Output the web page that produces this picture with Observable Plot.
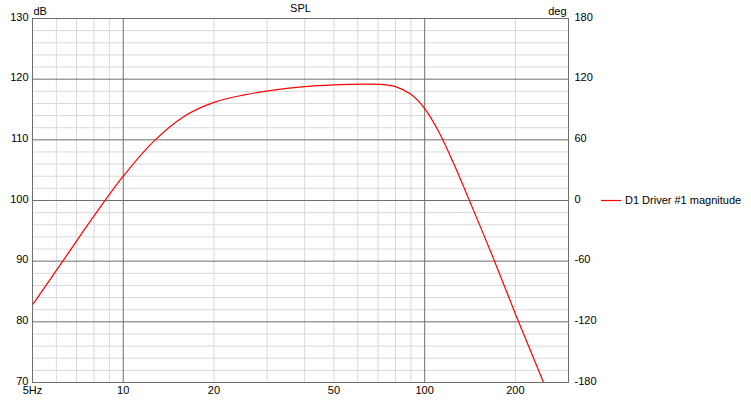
<!DOCTYPE html>
<html>
<head>
<meta charset="utf-8">
<script src="https://cdn.jsdelivr.net/npm/d3@7"></script>
<script src="https://cdn.jsdelivr.net/npm/@observablehq/plot@0.6"></script>
<style>
  html, body { margin: 0; padding: 0; background: #fff; }
  #wrap { position: relative; width: 751px; height: 400px; font-family: "Liberation Sans", Arial, sans-serif; }
  #legend { position: absolute; left: 0; top: 0; pointer-events: none; }
</style>
</head>
<body>
<div id="wrap"></div>
<script>
// Frequency (Hz) and SPL (dB)
const freqHz = [5, 6.3, 8, 10, 12.5, 16, 20, 25, 31.5, 40, 50, 63, 71, 80, 90, 100, 112, 125, 140, 170, 200, 248];
const splDb  = [82.8, 90.0, 97.45, 104.0, 109.55, 113.93, 116.17, 117.38, 118.19, 118.76, 119.05, 119.17, 119.15, 118.77, 117.5, 115.16, 111.1, 106.0, 100.27, 90.15, 81.3, 70];

const seriesName = "D1 Driver #1 magnitude";
const xTickValues = [5, 10, 20, 50, 100, 200];
const xTickLabels = ["5Hz", "10", "20", "50", "100", "200"];
const xMajorGrid = [10, 100];
const xMinorGrid = [6, 7, 8, 9, 20, 30, 40, 50, 60, 70, 80, 90, 200];
const yTicks = [70, 80, 90, 100, 110, 120, 130];
const yMajorGrid = [80, 90, 100, 110, 120];
const yMinorGrid = [72, 74, 76, 78, 82, 84, 86, 88, 92, 94, 96, 98, 102, 104, 106, 108, 112, 114, 116, 118, 122, 124, 126, 128];
const degTicks = [180, 120, 60, 0, -60, -120, -180];

const data = freqHz.map((f, i) => ({f, db: splDb[i]}));
// right axis: deg -180..180 spans same range as dB 70..130
const degToDb = d => 100 + d / 6;

const chart = Plot.plot({
  width: 751,
  height: 400,
  marginLeft: 32,
  marginRight: 183,
  marginTop: 18,
  marginBottom: 18,
  x: {type: "log", domain: [5, 300], label: null},
  y: {domain: [70, 130], label: null},
  style: {fontFamily: "'Liberation Sans', Arial, sans-serif", fontSize: "11px", background: "#fff", color: "#000"},
  marks: [
    Plot.ruleX(xMinorGrid, {stroke: "#d9d9d9", strokeOpacity: 1}),
    Plot.ruleY(yMinorGrid, {stroke: "#d9d9d9", strokeOpacity: 1}),
    Plot.ruleX(xMajorGrid, {stroke: "#6e6e6e", strokeOpacity: 1}),
    Plot.ruleY(yMajorGrid, {stroke: "#6e6e6e", strokeOpacity: 1}),
    Plot.line(data, {x: "f", y: "db", stroke: "#ff0000", strokeWidth: 1.2, curve: "catmull-rom"}),
    Plot.frame({stroke: "#6e6e6e", strokeOpacity: 1}),
    Plot.axisX({ticks: xTickValues, tickFormat: d => xTickLabels[xTickValues.indexOf(d)], tickSize: 0, tickPadding: 4, label: null}),
    Plot.axisY({ticks: yTicks, tickFormat: d => String(d), tickSize: 0, tickPadding: 4, dy: -1.5, label: null}),
    Plot.text(degTicks, {y: d => degToDb(d), text: d => String(d), frameAnchor: "right", textAnchor: "start", dx: 6, dy: -1.5}),
    Plot.text(["SPL"], {frameAnchor: "top", lineAnchor: "bottom", dy: -6.3}),
    Plot.text(["dB"], {frameAnchor: "top-left", textAnchor: "start", lineAnchor: "bottom", dx: 1, dy: -3.2}),
    Plot.text(["deg"], {frameAnchor: "top-right", textAnchor: "end", lineAnchor: "bottom", dx: -2, dy: -3.6})
  ]
});

const wrap = document.getElementById("wrap");
wrap.appendChild(chart);

// legend
const ns = "http://www.w3.org/2000/svg";
const leg = document.createElementNS(ns, "svg");
leg.setAttribute("id", "legend");
leg.setAttribute("width", 751);
leg.setAttribute("height", 400);
const ln = document.createElementNS(ns, "line");
ln.setAttribute("x1", 601); ln.setAttribute("x2", 621);
ln.setAttribute("y1", 200.5); ln.setAttribute("y2", 200.5);
ln.setAttribute("stroke", "#ff0000"); ln.setAttribute("stroke-width", 1.2);
leg.appendChild(ln);
const tx = document.createElementNS(ns, "text");
tx.setAttribute("x", 625); tx.setAttribute("y", 204);
tx.setAttribute("font-family", "'Liberation Sans', Arial, sans-serif");
tx.setAttribute("font-size", "11px");
tx.setAttribute("fill", "#000");
tx.textContent = seriesName;
leg.appendChild(tx);
wrap.appendChild(leg);
</script>
</body>
</html>
